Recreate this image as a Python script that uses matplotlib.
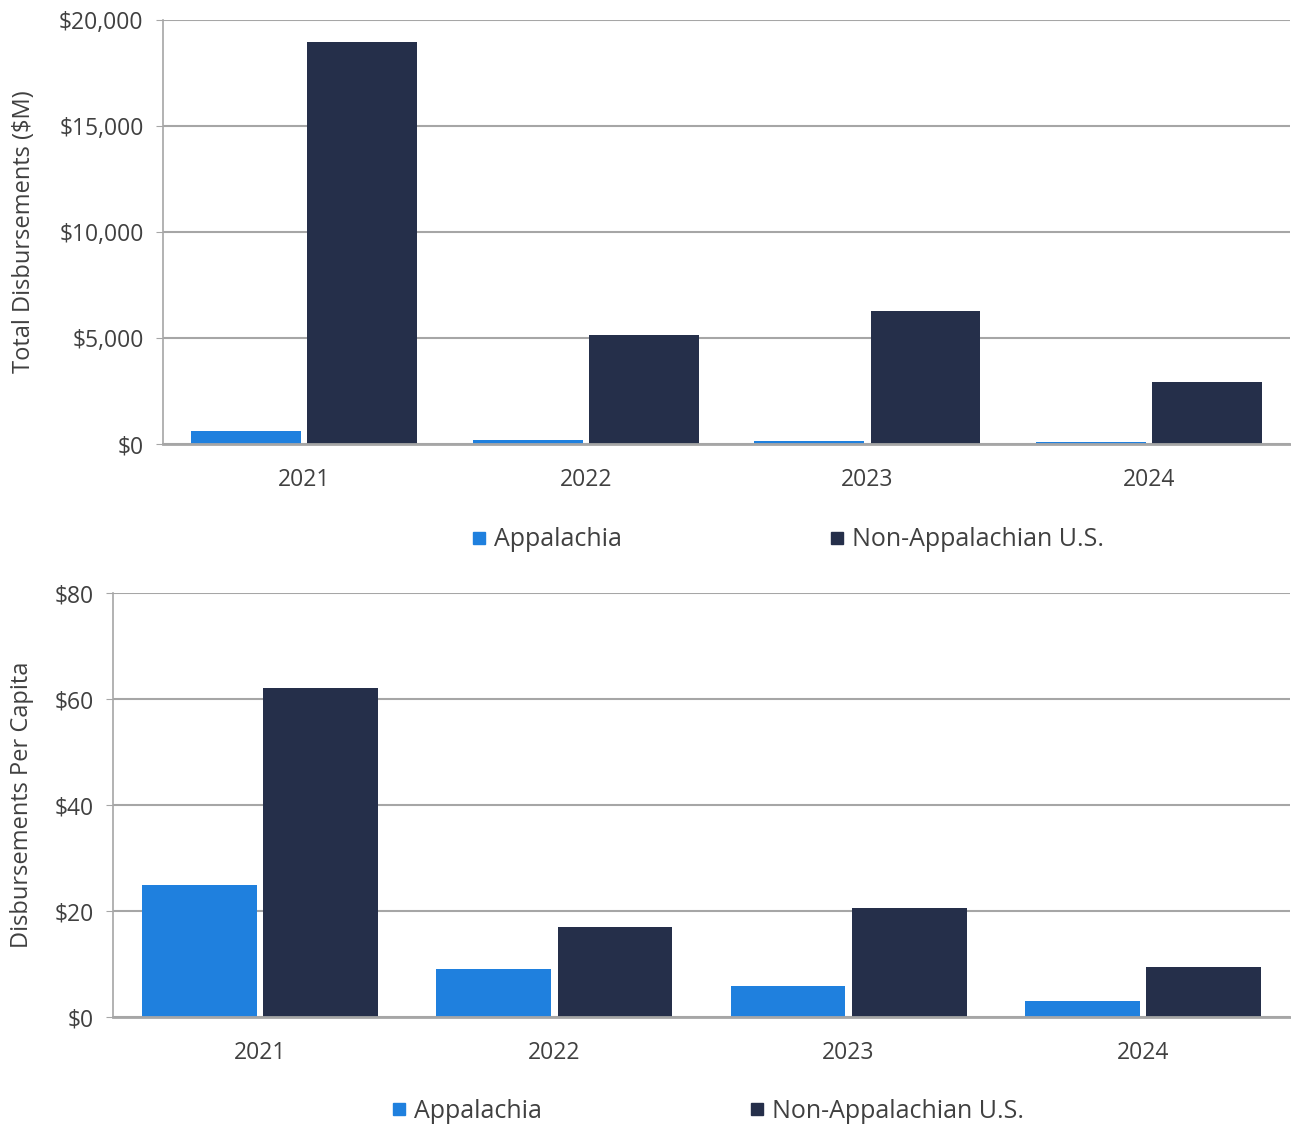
import matplotlib.pyplot as plt
import numpy as np
from matplotlib.lines import Line2D
from matplotlib.ticker import FuncFormatter

plt.rcParams['font.family'] = ['Open Sans', 'DejaVu Sans']

years = ['2021', '2022', '2023', '2024']
series_names = ['Appalachia', 'Non-Appalachian U.S.']

# total disbursements, $M
total_app = [620, 190, 140, 80]
total_non = [18960, 5150, 6280, 2930]

# disbursements per capita, $
percap_app = [24.9, 9.1, 5.9, 3.0]
percap_non = [62.1, 17.0, 20.6, 9.4]

blue = '#1f80de'
navy = '#252f4a'
grid_c = '#a6a6a6'
text_c = '#404040'

fig = plt.figure(figsize=(12.91, 11.27), dpi=100)
ax1 = fig.add_axes([0.1263, 0.606, 0.873, 0.376])
ax2 = fig.add_axes([0.0875, 0.0976, 0.9117, 0.376])


def draw(ax, app, non, ymax, step, ylabel, label_x):
    x = np.arange(len(years))
    w = 0.39
    off = 0.206
    ax.bar(x - off, app, w, color=blue, zorder=3)
    ax.bar(x + off, non, w, color=navy, zorder=3)
    ax.set_xlim(-0.5, len(years) - 0.5)
    ax.set_ylim(0, ymax)
    ax.set_yticks(np.arange(0, ymax + step, step))
    ax.yaxis.set_major_formatter(FuncFormatter(lambda v, p: '${:,.0f}'.format(v)))
    ax.set_xticks(x)
    ax.set_xticklabels(years)
    ax.grid(axis='y', color=grid_c, lw=1.5, zorder=0)
    for s in ['top', 'right']:
        ax.spines[s].set_visible(False)
    ax.spines['left'].set_color(grid_c)
    ax.spines['left'].set_linewidth(1.2)
    ax.spines['bottom'].set_color(grid_c)
    ax.spines['bottom'].set_linewidth(2)
    ax.spines['bottom'].set_zorder(4)
    ax.tick_params(axis='x', length=0, pad=17, labelsize=16.5, labelcolor=text_c)
    ax.tick_params(axis='y', length=5, color=grid_c, pad=9, labelsize=16.5, labelcolor=text_c)
    ax.set_ylabel(ylabel, fontsize=17, color=text_c)
    ax.yaxis.set_label_coords(label_x, 0.5)


draw(ax1, total_app, total_non, 20000, 5000, 'Total Disbursements ($M)', -0.113)
draw(ax2, percap_app, percap_non, 80, 20, 'Disbursements Per Capita', -0.067)

handles = [Line2D([], [], marker='s', ls='', color=blue, markersize=9),
           Line2D([], [], marker='s', ls='', color=navy, markersize=9)]

for cx, cy in [(0.61, 0.521), (0.548, 0.014)]:
    fig.legend(handles, series_names, loc='center', bbox_to_anchor=(cx, cy),
               ncol=2, frameon=False, fontsize=18, labelcolor=text_c,
               handlelength=0.6, handletextpad=0.3, columnspacing=8.3)

fig.savefig('out.png', dpi=100)
